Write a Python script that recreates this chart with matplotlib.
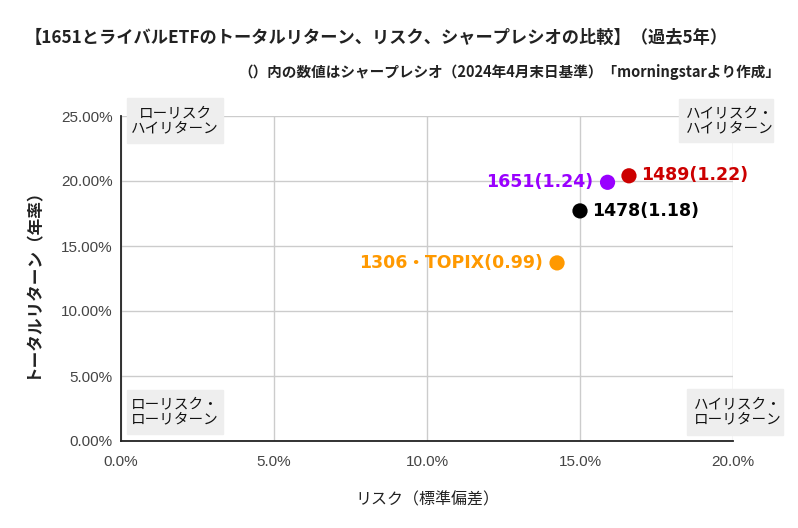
import matplotlib
matplotlib.use("Agg")
import matplotlib.pyplot as plt
from matplotlib.patches import Rectangle
from matplotlib.ticker import FuncFormatter

plt.rcParams["font.family"] = ["Noto Sans CJK JP", "DejaVu Sans"]

# data: risk (std dev, %) vs total return (annualised, %)
codes = ["1651", "1489", "1478", "1306・TOPIX"]
label_txt = ["1651(1.24)", "1489(1.22)", "1478(1.18)", "1306・TOPIX(0.99)"]
risk = [15.9, 16.6, 15.0, 14.25]
ret = [19.9, 20.4, 17.7, 13.7]
colors = ["#9900ff", "#cc0000", "#000000", "#ff9900"]
xticks = [0, 5, 10, 15, 20]
yticks = [0, 5, 10, 15, 20, 25]

W, H = 798, 528
fig = plt.figure(figsize=(W / 100, H / 100), dpi=100)
ax = fig.add_axes([121 / W, 1 - 441 / H, (733 - 121) / W, (441 - 116) / H])

ax.scatter(risk, ret, s=120, c=colors, zorder=3, linewidths=0)
offs = [(-10, 0, "right"), (9, 0.5, "left"), (9, 0, "left"), (-10, 0, "right")]
for x, y, t, c, (dx, dy, ha) in zip(risk, ret, label_txt, colors, offs):
    ax.annotate(t, (x, y), xytext=(dx, dy), textcoords="offset points",
                ha=ha, va="center", fontsize=12.5, fontweight="bold", color=c,
                family=["DejaVu Sans", "Noto Sans CJK JP"])

ax.set_xlim(0, 20); ax.set_ylim(0, 25)
ax.set_xticks(xticks); ax.set_yticks(yticks)
ax.xaxis.set_major_formatter(FuncFormatter(lambda v, p: f"{v:.1f}%"))
ax.yaxis.set_major_formatter(FuncFormatter(lambda v, p: f"{v:.2f}%"))
for lab in ax.get_xticklabels() + ax.get_yticklabels():
    lab.set_family("Liberation Sans"); lab.set_fontsize(11); lab.set_color("#444444")
ax.tick_params(length=0, pad=6)
ax.tick_params(axis="x", pad=10)
ax.grid(True, color="#cccccc", lw=1)
ax.set_axisbelow(True)
for s in ("top", "right"):
    ax.spines[s].set_visible(False)
for s in ("left", "bottom"):
    ax.spines[s].set_color("#222222"); ax.spines[s].set_linewidth(1.3)

# corner boxes (pixel coords of the figure)
def box(x0, y0, x1, y1, text, tx, ty, ha):
    fig.add_artist(Rectangle((x0 / W, 1 - y1 / H), (x1 - x0) / W, (y1 - y0) / H,
                             transform=fig.transFigure, color="#eeeeee", zorder=0.5))
    fig.text(tx / W, 1 - ty / H, text, ha=ha, va="center", fontsize=10.5, color="#111111",
             linespacing=1.05, multialignment="center" if ha == "center" else "left", zorder=5)

box(127, 98, 223, 143, "ローリスク\nハイリターン", 175, 121, "center")
box(679, 99, 773, 142, "ハイリスク・\nハイリターン", 686, 121, "left")
box(127, 390, 223, 434, "ローリスク・\nローリターン", 175, 412, "center")
box(687, 389, 783, 435, "ハイリスク・\nローリターン", 694, 412, "left")

fig.text(25 / W, 1 - 38 / H,
         "【1651とライバルETFのトータルリターン、リスク、シャープレシオの比較】（過去5年）",
         ha="left", va="center", fontsize=12.4, fontweight="bold", color="#222222")
fig.text(780 / W, 1 - 72 / H,
         "（）内の数値はシャープレシオ（2024年4月末日基準）「morningstarより作成」",
         ha="right", va="center", fontsize=10.5, fontweight="bold", color="#222222")

ax.set_xlabel("リスク（標準偏差）", fontsize=11.5, labelpad=16, color="#222222")
ax.set_ylabel("トータルリターン（年率）", fontsize=12, fontweight="bold", labelpad=14, color="#222222")

fig.savefig("out.png", dpi=100)
